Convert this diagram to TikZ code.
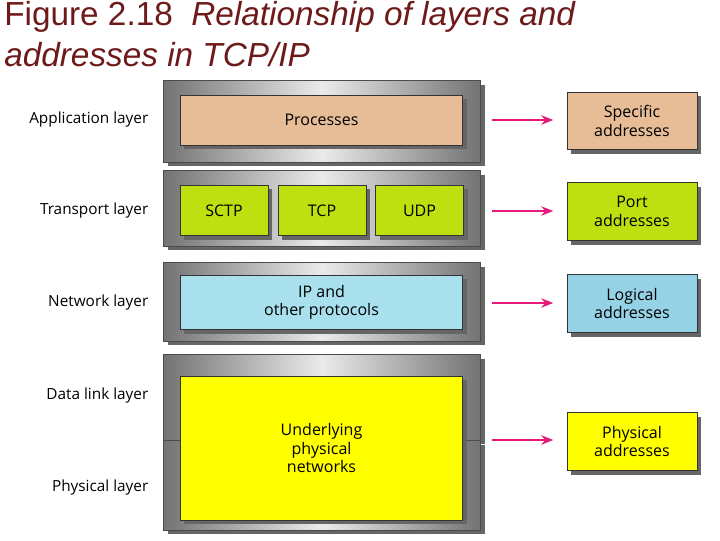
\documentclass[tikz,border=0pt]{standalone}
\usepackage{fontspec}
\setmainfont{Liberation Sans}
\newfontfamily\lab{Open Sans}
\usetikzlibrary{arrows.meta}
\definecolor{peach}{HTML}{E6BD96}
\definecolor{lime}{HTML}{BFE010}
\definecolor{lblue}{HTML}{A8E0EE}
\definecolor{rblue}{HTML}{96D2E6}
\definecolor{ttl}{HTML}{6E1A1A}
\definecolor{mag}{HTML}{E6197D}
\definecolor{yel}{HTML}{FFFF00}
\begin{document}
\begin{tikzpicture}[x=0.75pt,y=-0.75pt,
  bar/.style={draw=black!70,left color=black!55,right color=black!55,middle color=black!8},
  shad/.style={fill=black!60},
  box/.style={draw=black!80,line width=0.6pt},
  lbl/.style={font=\lab\fontsize{12}{14}\selectfont,align=center},
  side/.style={font=\lab\fontsize{11.5}{14}\selectfont,anchor=east},
  arr/.style={draw=mag,line width=1.6pt,-{Stealth[length=9pt,width=7pt]}}]
\useasboundingbox (0,0) rectangle (720,540);
\node[anchor=north west,align=left,text=ttl,font=\fontsize{25}{31}\selectfont,inner sep=0] (title) at (4,1)
 {Figure 2.18\ \ \textit{Relationship of layers and}\\\textit{addresses in TCP/IP}};
% bars
\foreach \t/\b in {80/162,170/246,262/341,354/440,440/530}{
  \fill[shad] (168,\t+5) rectangle (485,\b+4);
  \path[bar] (163,\t) rectangle (480,\b);
}
% inner boxes
\fill[shad] (184,99) rectangle (467,149);
\node[box,fill=peach,minimum width=212pt,minimum height=37.5pt,lbl] (proc) at (321.5,120) {Processes};
\foreach \n/\x in {SCTP/224,TCP/322,UDP/419.5}{
 \fill[shad] (\x-40,189) rectangle (\x+48,240);
 \node[box,fill=lime,minimum width=66pt,minimum height=38pt,lbl] (\n) at (\x,210.5) {\n};}
\fill[shad] (184,279) rectangle (467,334);
\node[box,fill=lblue,minimum width=212pt,minimum height=41pt,lbl] (ip) at (321.5,302.5) {IP and\\other protocols};
\fill[shad] (184,380) rectangle (467,524);
\node[box,fill=yel,minimum width=212pt,minimum height=108pt,lbl] (und) at (321.5,448) {Underlying\\physical\\networks};
% side labels
\node[side] (la) at (153,120) {Application layer};
\node[side] (lt) at (153,211) {Transport layer};
\node[side] (ln) at (153,303) {Network layer};
\node[side] (ld) at (153,396) {Data link layer};
\node[side] (lp) at (153,488) {Physical layer};
% right boxes
\foreach \n/\c/\y/\t in {ra/peach/121/Specific\\addresses,rp/lime/211.5/Port\\addresses,rl/rblue/303.5/Logical\\addresses,rph/yel/441.5/Physical\\addresses}{
 \fill[shad] (571,\y-25) rectangle (701,\y+33);
 \node[box,fill=\c,minimum width=97.5pt,minimum height=43pt,lbl] (\n) at (632,\y) {\t};}
\coordinate (s1) at (492,120); \coordinate (s2) at (492,211);
\coordinate (s3) at (492,303); \coordinate (s4) at (492,440);
\draw[arr] (s1) -- ([xshift=-10pt]ra.west|-s1);
\draw[arr] (s2) -- ([xshift=-10pt]rp.west|-s2);
\draw[arr] (s3) -- ([xshift=-10pt]rl.west|-s3);
\draw[arr] (s4) -- ([xshift=-10pt]rph.west|-s4);
\end{tikzpicture}
\end{document}
